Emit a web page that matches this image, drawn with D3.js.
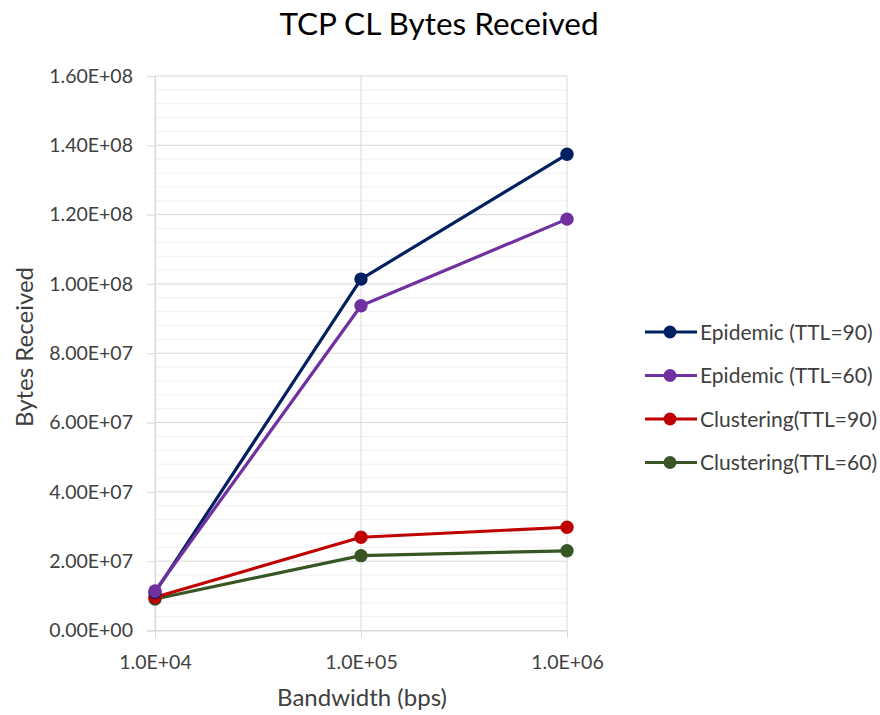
<!DOCTYPE html>
<html>
<head>
<meta charset="utf-8">
<script src="https://cdn.jsdelivr.net/npm/d3@7"></script>
<style>
  html, body { margin: 0; padding: 0; background: #fff; }
  svg text { font-family: Lato, "Open Sans", sans-serif; fill: #262626; }
</style>
</head>
<body>
<svg id="chart" width="880" height="715"></svg>
<script>
// Bandwidth values on the x axis (bps)
const bandwidths = [1e4, 1e5, 1e6];
const xTickLabels = ["1.0E+04", "1.0E+05", "1.0E+06"];

// Bytes received per series
const seriesNames = ["Epidemic (TTL=90)", "Epidemic (TTL=60)", "Clustering(TTL=90)", "Clustering(TTL=60)"];
const epidemic90 = [1.10e7, 1.014e8, 1.374e8];
const epidemic60 = [1.14e7, 9.37e7, 1.187e8];
const clustering90 = [9.6e6, 2.69e7, 2.98e7];
const clustering60 = [9.1e6, 2.16e7, 2.30e7];
const seriesColors = ["#002060", "#7030a0", "#c00000", "#375623"];

const yTicks = [0, 2e7, 4e7, 6e7, 8e7, 1e8, 1.2e8, 1.4e8, 1.6e8];

const svg = d3.select("#chart");
const plotLeft = 155, plotRight = 567, plotTop = 76, plotBottom = 630.5;

const x = d3.scaleLog().domain([1e4, 1e6]).range([plotLeft, plotRight]);
const y = d3.scaleLinear().domain([0, 1.6e8]).range([plotBottom, plotTop]);

// Minor horizontal gridlines
const minor = d3.range(0, 1.6e8 + 1, 4e6).filter(v => v % 2e7 !== 0);
svg.append("g").selectAll("line").data(minor).join("line")
  .attr("x1", plotLeft).attr("x2", plotRight)
  .attr("y1", d => y(d)).attr("y2", d => y(d))
  .attr("stroke", "#f0f0f0").attr("stroke-width", 1);

// Major horizontal gridlines
svg.append("g").selectAll("line").data(yTicks).join("line")
  .attr("x1", plotLeft).attr("x2", plotRight)
  .attr("y1", d => y(d)).attr("y2", d => y(d))
  .attr("stroke", "#d9d9d9").attr("stroke-width", 1);

// Vertical gridlines at each decade
svg.append("g").selectAll("line").data(bandwidths).join("line")
  .attr("x1", d => x(d)).attr("x2", d => x(d))
  .attr("y1", plotTop).attr("y2", plotBottom)
  .attr("stroke", "#d9d9d9").attr("stroke-width", 1);

// Y axis
const yAxis = d3.axisLeft(y).tickValues(yTicks)
  .tickFormat(d => d3.format(".2e")(d).replace("e+", "E+0").replace(/E\+0(\d\d)/, "E+$1"))
  .tickSize(8).tickPadding(14);
const gy = svg.append("g").attr("transform", `translate(${plotLeft},0)`).call(yAxis);
gy.select(".domain").attr("stroke", "#d9d9d9");
gy.selectAll(".tick line").attr("stroke", "#d9d9d9");
gy.selectAll(".tick text").attr("font-size", 19.5).style("fill", "#404040");

// X axis
const xAxis = d3.axisBottom(x).tickValues(bandwidths)
  .tickFormat((d, i) => xTickLabels[i]).tickSize(7).tickPadding(18);
const gx = svg.append("g").attr("transform", `translate(0,${plotBottom})`).call(xAxis);
gx.select(".domain").attr("stroke", "#d9d9d9");
gx.selectAll(".tick line").attr("stroke", "#d9d9d9");
gx.selectAll(".tick text").attr("font-size", 19.5).style("fill", "#404040");

// Series lines and markers
const allSeries = [epidemic90, epidemic60, clustering90, clustering60];
const line = d3.line().x((d, i) => x(bandwidths[i])).y(d => y(d));
const drawOrder = [3, 2, 0, 1];
drawOrder.forEach(si => {
  const vals = allSeries[si];
  svg.append("path").datum(vals)
    .attr("d", line).attr("fill", "none")
    .attr("stroke", seriesColors[si]).attr("stroke-width", 3.2)
    .attr("stroke-linejoin", "round");
  svg.append("g").selectAll("circle").data(vals).join("circle")
    .attr("cx", (d, i) => x(bandwidths[i])).attr("cy", d => y(d))
    .attr("r", 6.7).attr("fill", seriesColors[si]);
});

// Legend
const legend = svg.append("g");
seriesNames.forEach((name, i) => {
  const ly = 332 + i * 43.5;
  legend.append("line").attr("x1", 645).attr("x2", 697).attr("y1", ly).attr("y2", ly)
    .attr("stroke", seriesColors[i]).attr("stroke-width", 3.2);
  legend.append("circle").attr("cx", 670).attr("cy", ly).attr("r", 6.5).attr("fill", seriesColors[i]);
  legend.append("text").attr("x", 700).attr("y", ly).attr("dy", "0.36em")
    .attr("font-size", 21).style("fill", "#404040").text(name);
});

// Title and axis labels
svg.append("text").attr("x", 439).attr("y", 35).attr("text-anchor", "middle")
  .attr("font-size", 31.5).style("fill", "#000").text("TCP CL Bytes Received");
svg.append("text").attr("x", 362).attr("y", 706).attr("text-anchor", "middle")
  .attr("font-size", 24).style("fill", "#404040").text("Bandwidth (bps)");
svg.append("text").attr("transform", `translate(33,347) rotate(-90)`).attr("text-anchor", "middle")
  .attr("font-size", 24).style("fill", "#404040").text("Bytes Received");
</script>
</body>
</html>
